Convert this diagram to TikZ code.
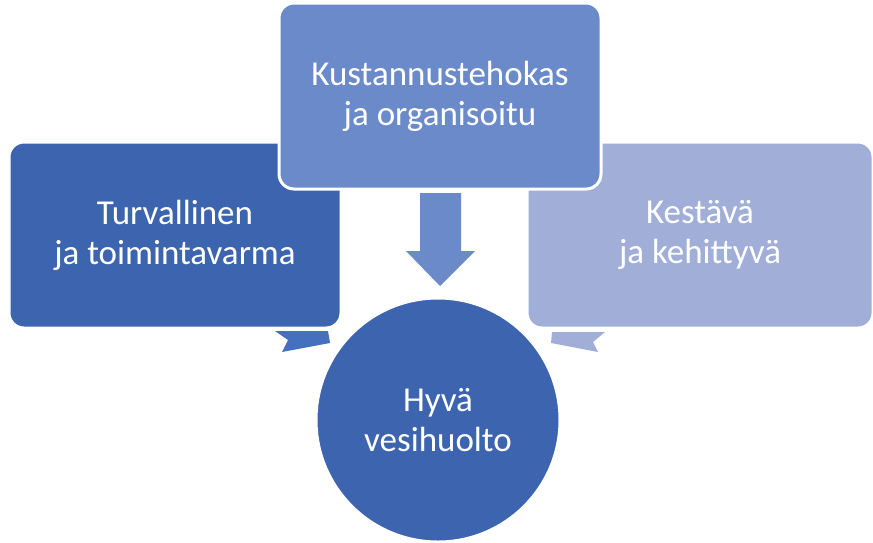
\documentclass[tikz,border=0pt]{standalone}
\usepackage{fontspec}
\setmainfont{Carlito}
\usepackage{tikz}
\definecolor{darkblue}{HTML}{3D64AE}
\definecolor{midblue}{HTML}{6B8AC9}
\definecolor{lightblue}{HTML}{A0AED8}
\definecolor{arrowblue}{HTML}{4470BE}
\tikzset{
	boxstyle/.style={rectangle,rounded corners=15pt,draw=white,line width=3pt,
		minimum height=186pt,text=white,align=center,
		font=\fontsize{35}{40}\selectfont},
	goalstyle/.style={circle,draw=white,line width=3pt,fill=darkblue,
		minimum size=244pt,text=white,align=center,
		font=\fontsize{35}{40}\selectfont}
}
\begin{document}
\begin{tikzpicture}[x=1pt,y=-1pt]
	\useasboundingbox (0,0) rectangle (873,542);
	% arrows towards the goal
	\fill[arrowblue] (275,331) -- (328,331) -- (330,343) -- (282,352) -- (288,340) -- cycle;
	\fill[lightblue] (552,332) -- (605,332) -- (593,342) -- (598,352) -- (551,343) -- cycle;
	\fill[midblue] (420,193) -- (461,193) -- (461,251) -- (475,251) -- (440,286)
		-- (406,251) -- (420,251) -- cycle;
	% boxes
	\node[boxstyle,fill=darkblue,minimum width=332pt] (safe) at (175,235) {Turvallinen\\ja toimintavarma};
	\node[boxstyle,fill=lightblue,minimum width=346pt] (green) at (700,235) {Kestävä\\ja kehittyvä};
	\node[boxstyle,fill=midblue,minimum width=322pt] (cost) at (440,96) {Kustannustehokas\\ja organisoitu};
	\node[goalstyle] (goal) at (438,420) {Hyvä\\vesihuolto};
\end{tikzpicture}
\end{document}
